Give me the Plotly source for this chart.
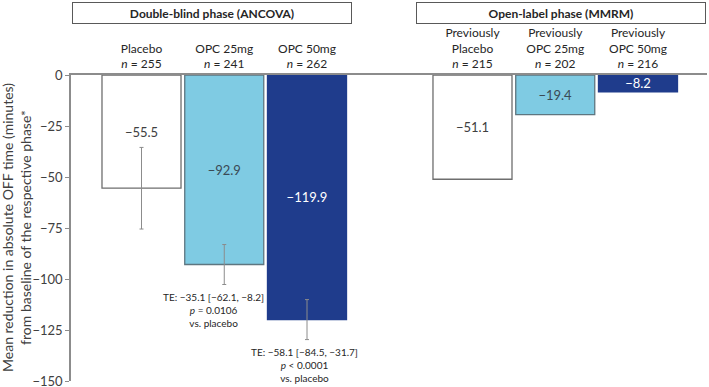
import plotly.graph_objects as go

# ---- data ----
db_arms = ["Placebo", "OPC 25mg", "OPC 50mg"]
db_n = [255, 241, 262]
db_values = [-55.5, -92.9, -119.9]
db_err = [20.0, 9.8, 9.8]

ol_arms = ["Previously Placebo", "Previously OPC 25mg", "Previously OPC 50mg"]
ol_n = [215, 202, 216]
ol_values = [-51.1, -19.4, -8.2]

gap = " "

te_texts = [
    "TE: \u221235.1 [\u221262.1, \u22128.2]<br><i>p</i> = 0.0106<br>vs. placebo",
    "TE: \u221258.1 [\u221284.5, \u221231.7]<br><i>p</i> < 0.0001<br>vs. placebo",
]

y_ticks = [0, -25, -50, -75, -100, -125, -150]

# ---- styles ----
fill_colors = ["#FFFFFF", "#7FCBE3", "#1F3C8C"]
line_colors = ["#6E6E6E", "#5E7680", "#1F3C8C"]
text_colors = ["#404040", "#3A4A55", "#FFFFFF"]
FONT = "Lato"

def fmt(v):
    return f"{v:.1f}".replace("-", "\u2212")

def header(label, n):
    return label.replace("Previously ", "Previously<br>") + f"<br><i>n</i> = {n}"

fig = go.Figure()

fig.add_trace(go.Bar(
    x=db_arms, y=db_values, width=0.955,
    marker=dict(color=fill_colors, line=dict(color=line_colors, width=1.3)),
    text=[fmt(v) for v in db_values], textposition="inside",
    insidetextanchor="middle", constraintext="none",
    textfont=dict(family=FONT, size=13, color=text_colors),
    error_y=dict(type="data", array=db_err, color="#8C8C8C", thickness=1, width=2),
    showlegend=False, hoverinfo="skip",
))

fig.add_trace(go.Bar(
    x=ol_arms, y=ol_values, width=0.955,
    marker=dict(color=fill_colors, line=dict(color=line_colors, width=1.3)),
    text=[fmt(v) for v in ol_values], textposition="inside",
    insidetextanchor="middle", constraintext="none",
    textfont=dict(family=FONT, size=13, color=text_colors),
    showlegend=False, hoverinfo="skip",
))

cats = db_arms + [gap] + ol_arms
tick_text = [header(a, n) for a, n in zip(db_arms, db_n)] + [""] + \
            [header(a, n) for a, n in zip(ol_arms, ol_n)]

fig.update_layout(
    width=709, height=387,
    margin=dict(l=71, r=2, t=75, b=6, autoexpand=False),
    paper_bgcolor="white", plot_bgcolor="white",
    barmode="overlay",
    font=dict(family=FONT, color="#404040"),
    xaxis=dict(
        type="category", categoryorder="array", categoryarray=cats,
        tickmode="array", tickvals=cats, ticktext=tick_text,
        range=[-0.852, 6.834], automargin=False,
        side="top", showline=True, linecolor="#8C8C8C", linewidth=1.5,
        ticks="", showgrid=False, zeroline=False,
        tickfont=dict(family=FONT, size=12, color="#262626"),
    ),
    yaxis=dict(
        range=[-150, 0], tickmode="array", tickvals=y_ticks,
        ticktext=[fmt(t).replace(".0", "") for t in y_ticks],
        automargin=False, ticklabeloverflow="allow",
        showline=True, linecolor="#8C8C8C", linewidth=1.5,
        ticks="outside", ticklen=4, tickcolor="#8C8C8C",
        showgrid=False, zeroline=False,
        tickfont=dict(family=FONT, size=13, color="#404040"),
    ),
)

# y-axis title (two lines)
fig.add_annotation(
    xref="paper", yref="paper", x=0, y=0.5, xshift=-55,
    text="Mean reduction in absolute OFF time (minutes)<br>from baseline of the respective phase*",
    textangle=-90, showarrow=False, xanchor="center", yanchor="middle",
    font=dict(family=FONT, size=14, color="#404040"),
)

# phase boxes
fig.add_annotation(
    xref="paper", yref="paper", x=(212 - 71) / 636, y=1, yshift=62,
    text="<b>Double-blind phase (ANCOVA)</b>", showarrow=False,
    xanchor="center", yanchor="middle", width=276, height=18,
    bordercolor="#595959", borderwidth=1, borderpad=1, bgcolor="white",
    font=dict(family=FONT, size=12, color="#262626"),
)
fig.add_annotation(
    xref="paper", yref="paper", x=(561 - 71) / 636, y=1, yshift=62,
    text="<b>Open-label phase (MMRM)</b>", showarrow=False,
    xanchor="center", yanchor="middle", width=286, height=18,
    bordercolor="#595959", borderwidth=1, borderpad=1, bgcolor="white",
    font=dict(family=FONT, size=12, color="#262626"),
)

# treatment effect annotations below error bars
for arm, v, e, txt, xs in zip(db_arms[1:], db_values[1:], db_err[1:], te_texts, [-11, -3]):
    fig.add_annotation(
        x=arm, y=v - e, yref="y", xref="x", xshift=xs, yshift=-4,
        text=txt, showarrow=False, xanchor="center", yanchor="top",
        align="center", font=dict(family=FONT, size=10, color="#262626"),
    )

fig.write_html(
    "out.html",
    config={"displayModeBar": False},
    post_script="document.body.style.margin='0';document.body.style.overflow='hidden';",
)
